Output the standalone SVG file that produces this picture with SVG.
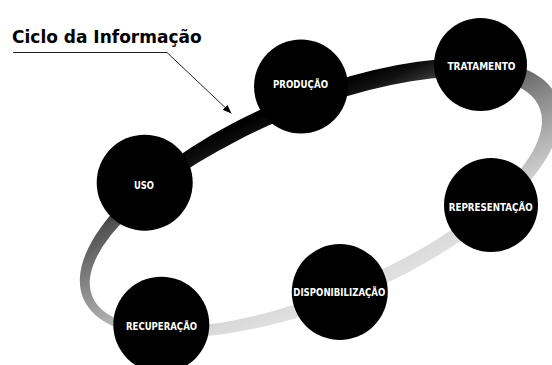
<svg xmlns="http://www.w3.org/2000/svg" width="552" height="365" viewBox="0 0 552 365">
  <defs>
    <linearGradient id="bandGrad" gradientUnits="userSpaceOnUse" x1="0" y1="-100" x2="0" y2="100">
      <stop offset="0" stop-color="#000"/>
      <stop offset="0.08" stop-color="#111"/>
      <stop offset="0.155" stop-color="#333"/>
      <stop offset="0.2" stop-color="#505050"/>
      <stop offset="0.45" stop-color="#888"/>
      <stop offset="0.65" stop-color="#b0b0b0"/>
      <stop offset="0.85" stop-color="#d6d6d6"/>
      <stop offset="1" stop-color="#e0e0e0"/>
    </linearGradient>
    <marker id="arrow" markerUnits="userSpaceOnUse" markerWidth="9" markerHeight="7" refX="9" refY="3.5" orient="auto">
      <path d="M0,0 L9,3.5 L0,7 Z" fill="#000"/>
    </marker>
    <style>
      .node { fill: #000; }
      .label { fill: #fff; font-family: "DejaVu Sans", "Liberation Sans", sans-serif; font-size: 10.5px; font-weight: bold; text-anchor: middle; }
      .title { fill: #000; font-family: "DejaVu Sans", "Liberation Sans", sans-serif; font-size: 17px; font-weight: bold; }
      .pointer { fill: none; stroke: #222; stroke-width: 1; }
    </style>
  </defs>
  <rect width="552" height="365" fill="#fff"/>

  <g id="ring" transform="translate(318,200) rotate(-23)">
    <path fill="url(#bandGrad)" fill-rule="evenodd" d="M-254.5,-1 A257.25,105 0 1 0 260,-1 A257.25,105 0 1 0 -254.5,-1 Z M-245.5,1 A242.75,89 0 1 0 240,1 A242.75,89 0 1 0 -245.5,1 Z"/>
  </g>

  <text class="title" x="12" y="43">Ciclo da Informação</text>

  <g id="connectors">
    <polyline class="pointer" points="13,52.5 167,52.5 231.5,113.5" marker-end="url(#arrow)"/>
  </g>

  <g id="producao">
    <circle class="node" cx="301" cy="86.5" r="47"/>
    <text class="label" x="300.5" y="88" textLength="55" lengthAdjust="spacingAndGlyphs">PRODUÇÃO</text>
  </g>
  <g id="tratamento">
    <circle class="node" cx="480.5" cy="64.5" r="46.5"/>
    <text class="label" x="481.5" y="70" textLength="68" lengthAdjust="spacingAndGlyphs">TRATAMENTO</text>
  </g>
  <g id="uso">
    <circle class="node" cx="144.7" cy="182.7" r="48"/>
    <text class="label" x="144" y="189" textLength="20" lengthAdjust="spacingAndGlyphs">USO</text>
  </g>
  <g id="representacao">
    <circle class="node" cx="491" cy="205" r="47"/>
    <text class="label" x="490.7" y="211" textLength="84" lengthAdjust="spacingAndGlyphs">REPRESENTAÇÃO</text>
  </g>
  <g id="disponibilizacao">
    <circle class="node" cx="339.8" cy="292" r="48"/>
    <text class="label" x="339.3" y="295.5" textLength="92" lengthAdjust="spacingAndGlyphs">DISPONIBILIZAÇÃO</text>
  </g>
  <g id="recuperacao">
    <circle class="node" cx="161.3" cy="324.7" r="48"/>
    <text class="label" x="161.5" y="329.5" textLength="71" lengthAdjust="spacingAndGlyphs">RECUPERAÇÃO</text>
  </g>
</svg>
